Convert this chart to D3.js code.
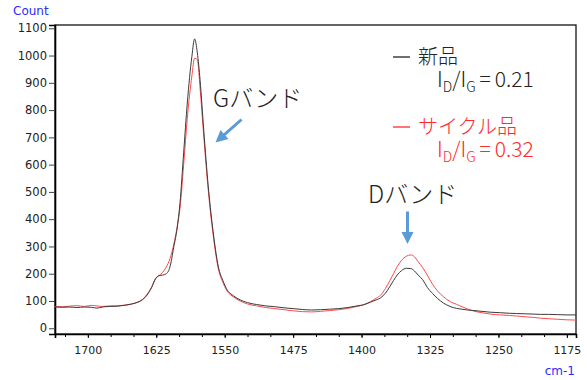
<!DOCTYPE html>
<html>
<head>
<meta charset="utf-8">
<script src="https://cdn.jsdelivr.net/npm/d3@7"></script>
<style>
  body { margin: 0; background: #fff; }
  svg { display: block; }
</style>
</head>
<body>
<div id="chart"></div>
<script>
// Raman spectra
const wavenumbers = [1736,1728,1720,1712,1704,1696,1690,1684,1676,1668,1660,1652,1645,1640,1635,1630,1626,1622,1618,1614,1610,1606,1602,1599,1595,1591,1586,1583,1580,1577,1573,1568,1562,1557,1552,1548,1540,1533,1525,1515,1505,1495,1485,1475,1465,1455,1445,1435,1425,1415,1405,1398,1390,1384,1379,1374,1369,1365,1361,1356,1351,1346,1342,1338,1333,1328,1322,1317,1310,1303,1296,1290,1284,1277,1268,1259,1248,1238,1230,1220,1212,1204,1195,1185,1175,1165];
const newCounts = [78,77,78,76,78,77,74,78,80,81,84,89,96,105,122,150,180,193,195,200,225,295,370,460,643,826,996,1061,1010,910,727,519,336,226,175,145,118,104,94,87,82,79,75,72,69,67,68,70,72,76,82,86,96,104,112,128,153,175,195,212,220,219,210,195,178,150,127,110,92,80,73,70,67,65,62,59,57,55,54,53,52,51,51,50,49,49];
const cycleCounts = [80,79,81,83,80,84,82,80,82,82,85,89,96,106,125,152,182,193,205,225,255,305,375,440,600,770,925,990,985,880,705,505,325,218,168,140,114,100,89,82,76,72,68,64,61,60,62,65,68,73,80,86,98,110,122,145,175,200,226,250,264,269,262,244,222,195,160,138,115,98,88,79,71,63,57,52,49,47,45,42,40,37,35,33,31,30];

const xTicks = [1700, 1625, 1550, 1475, 1400, 1325, 1250, 1175];
const xMinorTicks = d3.range(1725, 1164, -25);
const yTicks = d3.range(0, 1101, 100);

const W = 587, H = 380;
const margin = { top: 25, right: 11, bottom: 46, left: 55 };
const width = W - margin.left - margin.right;
const height = H - margin.top - margin.bottom;

const svg = d3.select("#chart").append("svg")
  .attr("width", W)
  .attr("height", H);

const x = d3.scaleLinear().domain([1736, 1165]).range([0, width]);
const y = d3.scaleLinear().domain([-21, 1112]).range([height, 0]);

const g = svg.append("g")
  .attr("transform", "translate(" + margin.left + "," + margin.top + ")");

g.append("clipPath").attr("id", "plotClip")
  .append("rect").attr("width", width).attr("height", height);

// frame
g.append("rect")
  .attr("width", width)
  .attr("height", height)
  .attr("fill", "none")
  .attr("stroke", "#000")
  .attr("stroke-width", 1.2);

// Axes
const tickFont = "DejaVu Sans, Verdana, sans-serif";

const xMinor = g.append("g")
  .attr("transform", "translate(0," + height + ")")
  .call(d3.axisBottom(x).tickValues(xMinorTicks).tickSize(3).tickFormat(""));
xMinor.select(".domain").remove();

const xAxis = g.append("g")
  .attr("transform", "translate(0," + height + ")")
  .call(d3.axisBottom(x).tickValues(xTicks).tickSize(4).tickPadding(8).tickFormat(d3.format("d")));
xAxis.select(".domain").attr("stroke-width", 1.6);
xAxis.selectAll("text").style("font-family", tickFont).style("font-size", "11px").attr("fill", "#222");

const yAxis = g.append("g")
  .call(d3.axisLeft(y).tickValues(yTicks).tickSize(6).tickPadding(2).tickFormat(d3.format("d")));
yAxis.select(".domain").attr("stroke-width", 1.6);
yAxis.selectAll(".tick line").attr("stroke", "#444");
yAxis.selectAll("text").style("font-family", tickFont).style("font-size", "11.5px").attr("fill", "#222");

svg.append("text")
  .attr("x", 13).attr("y", 15)
  .attr("fill", "#2b2bff")
  .style("font-family", tickFont).style("font-size", "12px")
  .text("Count");

svg.append("text")
  .attr("x", 575).attr("y", 375)
  .attr("text-anchor", "end")
  .attr("fill", "#2b2bff")
  .style("font-family", tickFont).style("font-size", "12px")
  .text("cm-1");

// spectra
const pts = (vals) => wavenumbers.map((w, i) => [w, vals[i]]);
const line = d3.line()
  .curve(d3.curveMonotoneX)
  .x(d => x(d[0]))
  .y(d => y(d[1]));

const plot = g.append("g").attr("clip-path", "url(#plotClip)");
plot.append("path")
  .datum(pts(cycleCounts))
  .attr("fill", "none")
  .attr("stroke", "#ff4a4a")
  .attr("stroke-width", 1)
  .attr("d", line);
plot.append("path")
  .datum(pts(newCounts))
  .attr("fill", "none")
  .attr("stroke", "#3a3a3a")
  .attr("stroke-width", 1)
  .attr("d", line);

// annotations
const jpFont = "'Noto Sans CJK JP', 'Noto Sans', sans-serif";
const arrowBlue = "#5b9bd5";

svg.append("text")
  .attr("x", 213).attr("y", 107)
  .attr("fill", "#222")
  .style("font-family", jpFont).style("font-size", "24px").style("font-weight", 300)
  .text("Gバンド");

svg.append("text")
  .attr("x", 368).attr("y", 203)
  .attr("fill", "#222")
  .style("font-family", jpFont).style("font-size", "24px").style("font-weight", 300)
  .text("Dバンド");

function arrow(x1, y1, x2, y2) {
  const ang = Math.atan2(y2 - y1, x2 - x1);
  const headLen = 12, headW = 6;
  const bx = x2 - headLen * Math.cos(ang), by = y2 - headLen * Math.sin(ang);
  svg.append("line")
    .attr("x1", x1).attr("y1", y1).attr("x2", bx + 2 * Math.cos(ang)).attr("y2", by + 2 * Math.sin(ang))
    .attr("stroke", arrowBlue).attr("stroke-width", 3);
  const px = -Math.sin(ang) * headW, py = Math.cos(ang) * headW;
  svg.append("path")
    .attr("d", `M${x2},${y2}L${bx + px},${by + py}L${bx - px},${by - py}Z`)
    .attr("fill", arrowBlue);
}
arrow(241.5, 119.5, 215.5, 142.5);
arrow(407.5, 211.5, 407.5, 244);

// legend
const legend = [
  { name: "新品", ratio: "0.21", color: "#222", y: 57 },
  { name: "サイクル品", ratio: "0.32", color: "#ff2a2a", y: 127 }
];
legend.forEach(l => {
  svg.append("line")
    .attr("x1", 393).attr("x2", 410)
    .attr("y1", l.y).attr("y2", l.y)
    .attr("stroke", l.color).attr("stroke-width", 1.3);
  svg.append("text")
    .attr("x", 418).attr("y", l.y + 7)
    .attr("fill", l.color)
    .style("font-family", jpFont).style("font-size", "20px").style("font-weight", 300)
    .text(l.name);
  const t = svg.append("text")
    .attr("x", 437).attr("y", l.y + 30)
    .attr("fill", l.color)
    .style("font-family", jpFont).style("font-size", "21px").style("font-weight", 300);
  t.append("tspan").text("I");
  t.append("tspan").attr("dy", 5).style("font-size", "14px").text("D");
  t.append("tspan").attr("dy", -5).text("/I");
  t.append("tspan").attr("dy", 5).style("font-size", "14px").text("G");
  t.append("tspan").attr("dy", -5).attr("dx", 4).text("=");
  t.append("tspan").attr("dx", 4).text(l.ratio);
});
</script>
</body>
</html>
